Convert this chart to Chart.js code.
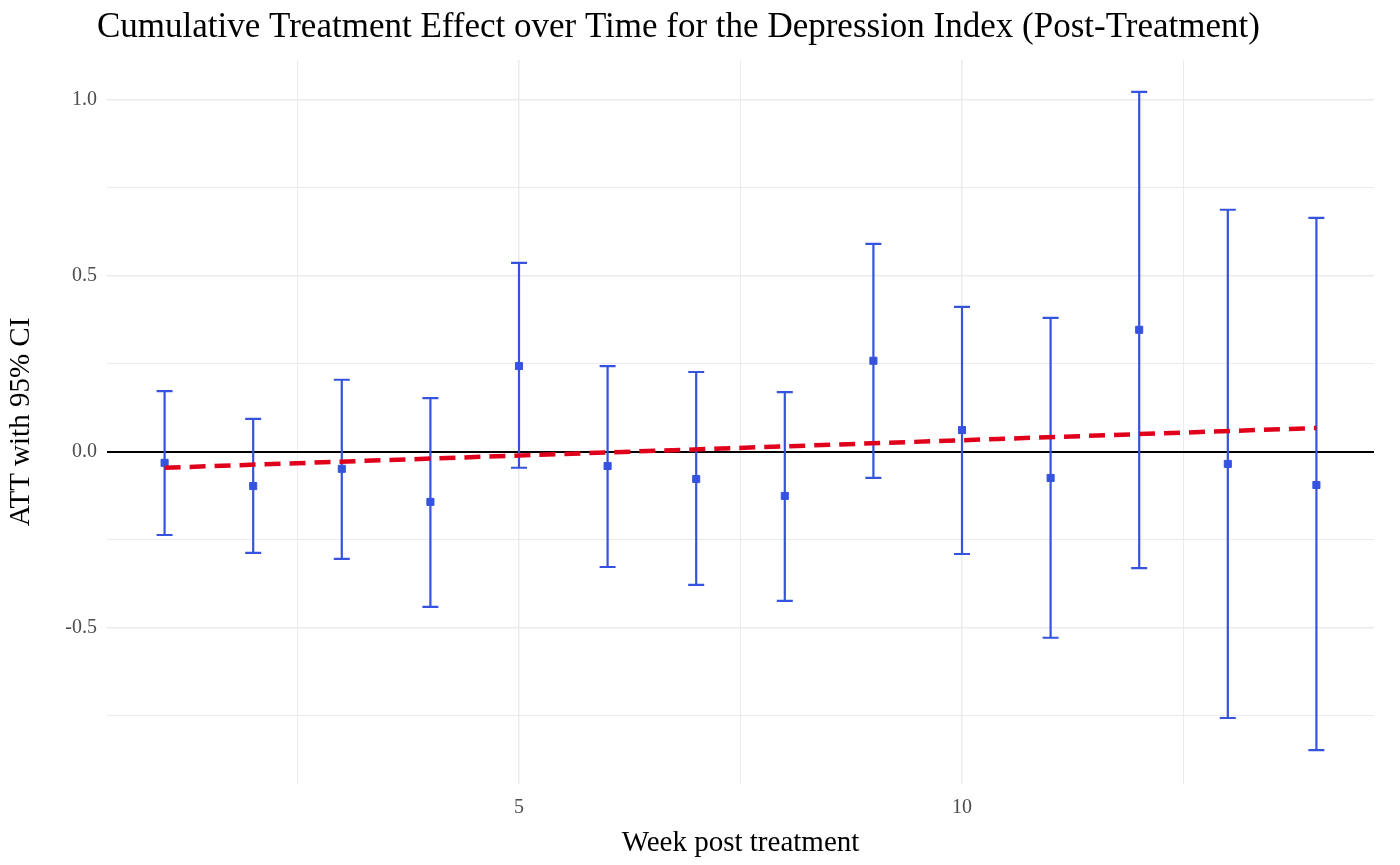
<!DOCTYPE html>
<html><head><meta charset="utf-8">
<script src="https://cdn.jsdelivr.net/npm/chart.js@4"></script>
<style>html,body{margin:0;background:#fff}canvas{display:block}</style>
</head><body>
<div style="width:1400px;height:865px"><canvas id="c"></canvas></div>
<script>
const weeks = [1,2,3,4,5,6,7,8,9,10,11,12,13,14];
const att   = [-0.031,-0.097,-0.048,-0.142,0.244,-0.040,-0.077,-0.125,0.259,0.062,-0.074,0.347,-0.034,-0.094];
const upper = [0.173,0.094,0.205,0.153,0.537,0.244,0.227,0.170,0.591,0.412,0.381,1.023,0.688,0.665];
const lower = [-0.236,-0.287,-0.304,-0.440,-0.045,-0.327,-0.378,-0.423,-0.074,-0.290,-0.528,-0.330,-0.756,-0.847];
const trendX = [1,14];
const trendY = [-0.045,0.068];
const xTicks = [2.5,5,7.5,10,12.5];
const yTicks = [-0.75,-0.5,-0.25,0,0.25,0.5,0.75,1.0];
const blue = '#3553de';
const FONT = '"Liberation Serif", "DejaVu Serif", serif';

const extras = {
  id:'extras',
  beforeDatasetsDraw(chart){
    const {ctx, chartArea:a, scales:{x,y}} = chart;
    ctx.save();
    ctx.strokeStyle='#000'; ctx.lineWidth=2;
    ctx.beginPath(); ctx.moveTo(a.left,y.getPixelForValue(0)); ctx.lineTo(a.right,y.getPixelForValue(0)); ctx.stroke();
    ctx.strokeStyle=blue; ctx.lineWidth=2.2;
    weeks.forEach((w,i)=>{
      const px=x.getPixelForValue(w), t=y.getPixelForValue(upper[i]), b=y.getPixelForValue(lower[i]);
      ctx.beginPath();
      ctx.moveTo(px,t); ctx.lineTo(px,b);
      ctx.moveTo(px-8,t); ctx.lineTo(px+8,t);
      ctx.moveTo(px-8,b); ctx.lineTo(px+8,b);
      ctx.stroke();
    });
    ctx.restore();
  },
  afterDraw(chart){
    const ctx=chart.ctx; ctx.save();
    ctx.fillStyle='#000'; ctx.font='35px '+FONT; ctx.textBaseline='middle';
    ctx.fillText('Cumulative Treatment Effect over Time for the Depression Index (Post-Treatment)',97,28);
    ctx.restore();
  }
};

new Chart(document.getElementById('c'),{
  type:'scatter',
  data:{datasets:[
    {type:'line', data:trendX.map((v,i)=>({x:v,y:trendY[i]})), borderColor:'#e0001b', borderWidth:4.5, borderDash:[16,9], pointRadius:0, order:1},
    {data:weeks.map((w,i)=>({x:w,y:att[i]})), pointStyle:'rect', pointRadius:5, backgroundColor:blue, borderColor:blue, order:2}
  ]},
  options:{
    responsive:true, maintainAspectRatio:false, animation:false,
    layout:{padding:{left:0,right:26,top:60,bottom:0}},
    plugins:{legend:{display:false},tooltip:{enabled:false}},
    scales:{
      x:{type:'linear',min:0.35,max:14.65,
        afterBuildTicks(s){s.ticks=xTicks.map(v=>({value:v}));},
        afterFit(s){s.height=81;},
        border:{display:false},
        grid:{color:'#ebebeb',lineWidth:c=>Number.isInteger(c.tick.value)?1.5:1,drawTicks:false},
        ticks:{padding:12,color:'#4d4d4d',font:{family:FONT,size:20},callback:v=>Number.isInteger(v)?String(v):''},
        title:{display:true,text:'Week post treatment',color:'#000',font:{family:FONT,size:29},padding:{top:0}}
      },
      y:{min:-0.9435,max:1.1135,
        afterBuildTicks(s){s.ticks=yTicks.map(v=>({value:v}));},
        afterFit(s){s.width=107;},
        border:{display:false},
        grid:{color:'#ebebeb',lineWidth:c=>(Math.abs(c.tick.value*2-Math.round(c.tick.value*2))<1e-6)?1.5:1,drawTicks:false},
        ticks:{padding:10,color:'#4d4d4d',font:{family:FONT,size:20},
          callback:v=>Math.abs(v*2-Math.round(v*2))<1e-6?v.toFixed(1):''},
        title:{display:true,text:'ATT with 95% CI',color:'#000',font:{family:FONT,size:29},padding:{bottom:4}}
      }
    }
  },
  plugins:[extras]
});
</script>
</body></html>
